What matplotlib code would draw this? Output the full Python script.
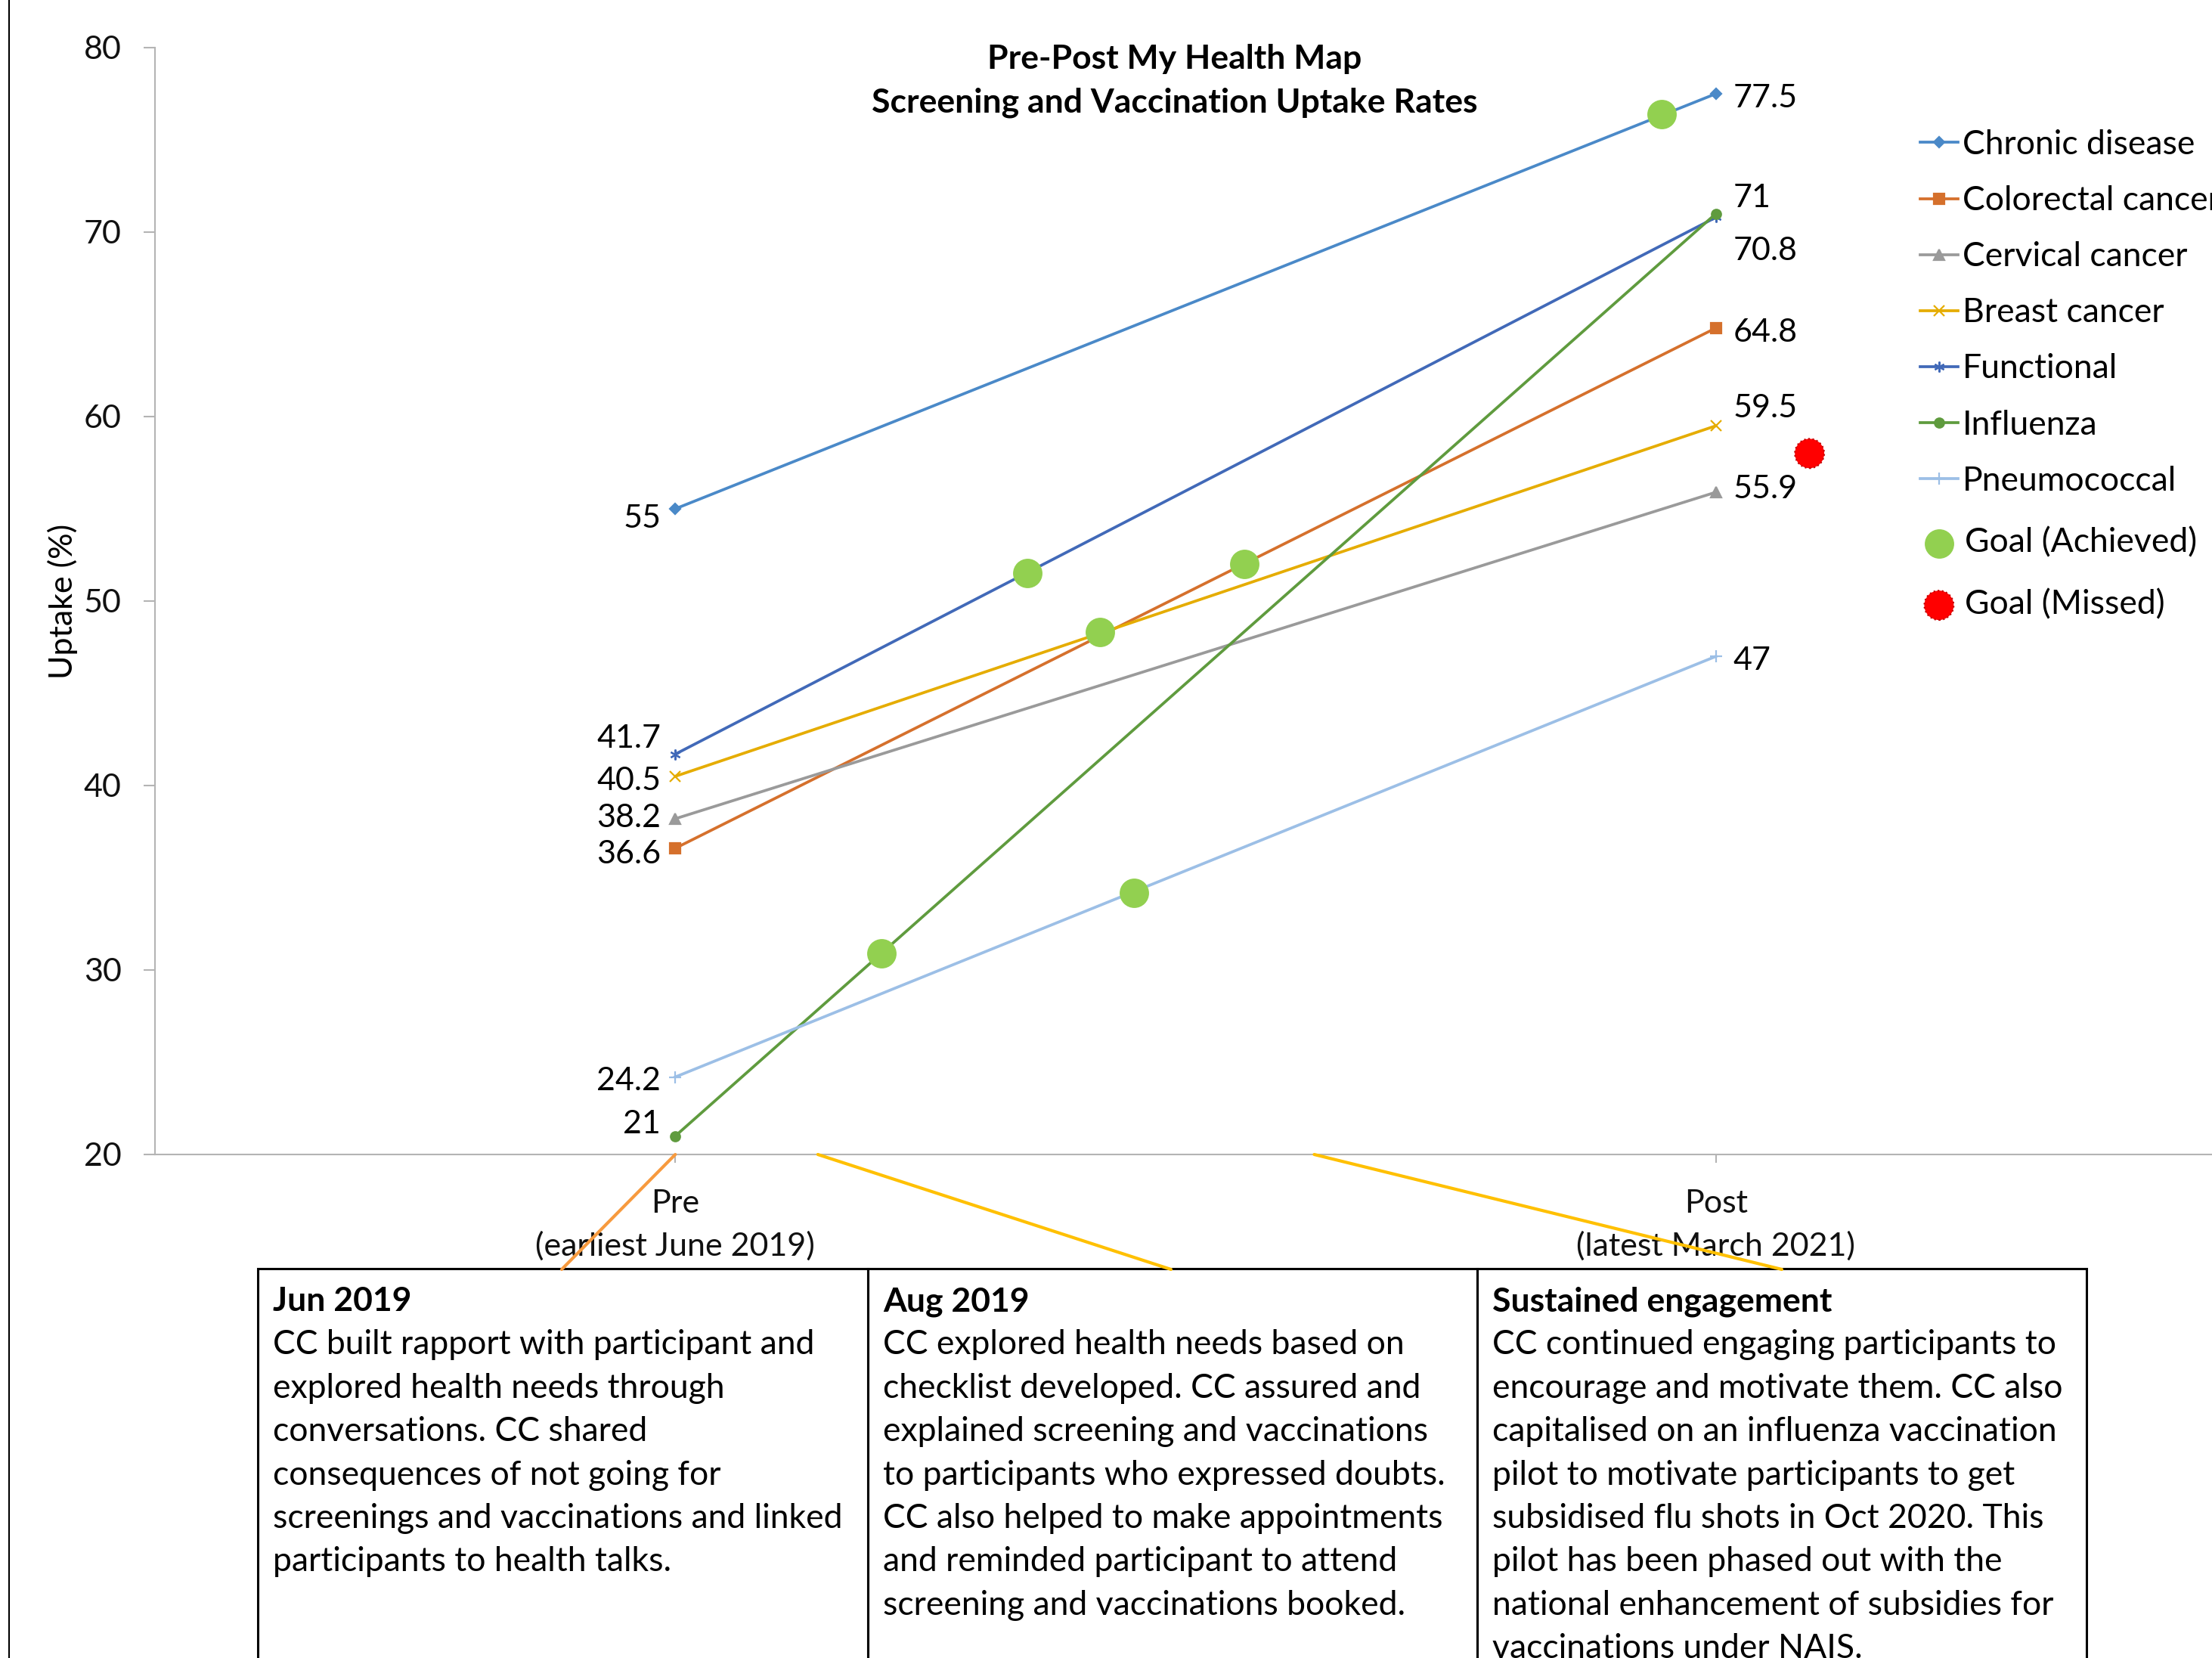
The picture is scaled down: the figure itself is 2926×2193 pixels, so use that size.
import matplotlib
matplotlib.use('Agg')
import matplotlib.pyplot as plt
from matplotlib.lines import Line2D
from matplotlib.patches import Rectangle, ConnectionPatch

plt.rcParams['font.family'] = ['Lato', 'DejaVu Sans']

W, H = 2926, 2193
FS = 31
FS_BOX = 32

# data
series = ['Chronic disease', 'Colorectal cancer', 'Cervical cancer', 'Breast cancer',
          'Functional', 'Influenza', 'Pneumococcal']
pre_values = [55, 36.6, 38.2, 40.5, 41.7, 21, 24.2]
post_values = [77.5, 64.8, 55.9, 59.5, 70.8, 71, 47]
periods = ['Pre\n(earliest June 2019)', 'Post\n(latest March 2021)']

# goals, x is position between Pre (0) and Post (1)
goal_hit_x = [0.948, 0.338, 0.408, 0.547, 0.198, 0.441]
goal_hit_y = [76.4, 51.5, 48.3, 52.0, 30.9, 34.2]
goal_miss_x = [1.09]
goal_miss_y = [58.0]

# where the value labels sit (so close values don't overlap)
pre_label_y = [54.6, 36.4, 38.4, 40.4, 42.7, 21.8, 24.1]
post_label_y = [77.4, 64.7, 56.2, 60.6, 69.1, 72.0, 46.9]

colors = ['#4A89C8', '#D5702C', '#9A9A9A', '#E5AC00', '#4169B8', '#5F9B3E', '#9CBFE6']
markers = ['D', 's', '^', 'x', (6, 2, 0), 'o', '+']
msizes = [7, 10, 10, 10, 10, 9, 11]

# timeline connectors: start on the x axis, end on top of the text boxes
timeline_x = [0.0, 0.137, 0.614]
timeline_end_px = [743, 1549, 2357]
timeline_colors = ['#F79A3E', '#FFC000', '#FFC000']

box_titles = ['Jun 2019', 'Aug 2019', 'Sustained engagement']
box_lines = [
    ['CC built rapport with participant and',
     'explored health needs through',
     'conversations. CC shared',
     'consequences of not going for',
     'screenings and vaccinations and linked',
     'participants to health talks.'],
    ['CC explored health needs based on',
     'checklist developed. CC assured and',
     'explained screening and vaccinations',
     'to participants who expressed doubts.',
     'CC also helped to make appointments',
     'and reminded participant to attend',
     'screening and vaccinations booked.'],
    ['CC continued engaging participants to',
     'encourage and motivate them. CC also',
     'capitalised on an influenza vaccination',
     'pilot to motivate participants to get',
     'subsidised flu shots in Oct 2020. This',
     'pilot has been phased out with the',
     'national enhancement of subsidies for',
     'vaccinations under NAIS.'],
]
box_edges = [341, 1148, 1954, 2760]

fig = plt.figure(figsize=(W / 100, H / 100), dpi=100)
ax = fig.add_axes([205 / W, 666 / H, 2753 / W, 1464 / H])

lines = []
for name, a, b, c, m, ms in zip(series, pre_values, post_values, colors, markers, msizes):
    ln, = ax.plot([0, 1], [a, b], color=c, lw=2.7, marker=m, ms=ms, mew=1.6,
                  mfc=c, mec=c, label=name, zorder=2)
    lines.append(ln)

hit = ax.scatter(goal_hit_x, goal_hit_y, s=784, color='#92D050', lw=0, zorder=4,
                 label='Goal (Achieved)')
miss = ax.scatter(goal_miss_x, goal_miss_y, s=784, color='#FF0000', edgecolors='#C00000',
                  linewidths=1.5, linestyles=':', zorder=4, label='Goal (Missed)')

for a, ly in zip(pre_values, pre_label_y):
    ax.annotate(f'{a:g}', xy=(0, ly), xytext=(-19, 0), textcoords='offset pixels',
                ha='right', va='center_baseline', fontsize=FS)
for b, ly in zip(post_values, post_label_y):
    ax.annotate(f'{b:g}', xy=(1, ly), xytext=(23, 0), textcoords='offset pixels',
                ha='left', va='center_baseline', fontsize=FS)

ax.set_xlim(-0.5, 1.5)
ax.set_ylim(20, 80)
ax.set_yticks(range(20, 81, 10))
ax.set_xticks([0, 1])
ax.set_xticklabels(periods)
for lbl in ax.get_xticklabels():
    lbl.set_linespacing(1.55)
for s in ['top', 'right']:
    ax.spines[s].set_visible(False)
for s in ['left', 'bottom']:
    ax.spines[s].set_color('#B4B4B4')
    ax.spines[s].set_linewidth(1.5)
ax.tick_params(axis='y', direction='out', length=11, width=1.5, color='#B4B4B4',
               pad=21, labelsize=FS, labelcolor='#111111')
ax.tick_params(axis='x', direction='out', length=8, width=1.5, color='#B4B4B4',
               pad=25, labelsize=FS, labelcolor='#111111')
ax.set_ylabel('Uptake (%)', fontsize=FS)
ax.yaxis.set_label_coords(-0.037, 0.5)

fig.text(1554 / W, 1 - 107 / H, 'Pre-Post My Health Map\nScreening and Vaccination Uptake Rates',
         ha='center', va='center', fontsize=32, fontweight='bold', linespacing=1.5)

leg1 = ax.legend(handles=lines, loc='upper left', bbox_to_anchor=(2540 / W, 1 - 171 / H),
                 bbox_transform=fig.transFigure, frameon=False, fontsize=32,
                 handlelength=1.12, handletextpad=0.14, labelspacing=0.745,
                 borderpad=0, borderaxespad=0, numpoints=1)
ax.add_artist(leg1)
ax.legend(handles=[hit, miss], loc='upper left', bbox_to_anchor=(2540 / W, 1 - 697 / H),
          bbox_transform=fig.transFigure, frameon=False, fontsize=32,
          handlelength=1.12, handletextpad=0.2, labelspacing=0.92,
          borderpad=0, borderaxespad=0, scatterpoints=1)

# left border line
fig.add_artist(Line2D([12 / W, 12 / W], [0, 1], color='black', lw=1.5))

# text boxes under the timeline
for i in range(3):
    x0, x1 = box_edges[i], box_edges[i + 1]
    fig.add_artist(Rectangle((x0 / W, -0.01), (x1 - x0) / W, 515 / H + 0.01,
                             transform=fig.transFigure, fill=False, ec='black', lw=2.2))
    tx = (x0 + 20) / W
    fig.text(tx, 1 - 1734 / H, box_titles[i], fontsize=FS_BOX, fontweight='bold', va='baseline')
    for j, t in enumerate(box_lines[i]):
        fig.text(tx, 1 - (1734 + (j + 1) * 57.4) / H, t, fontsize=FS_BOX, va='baseline')

for x, xe, c in zip(timeline_x, timeline_end_px, timeline_colors):
    con = ConnectionPatch(xyA=(x, 20), coordsA=ax.transData,
                          xyB=(xe, H - 1679), coordsB='figure pixels',
                          color=c, lw=3, zorder=5)
    fig.add_artist(con)

fig.savefig('out.png', dpi=100)
